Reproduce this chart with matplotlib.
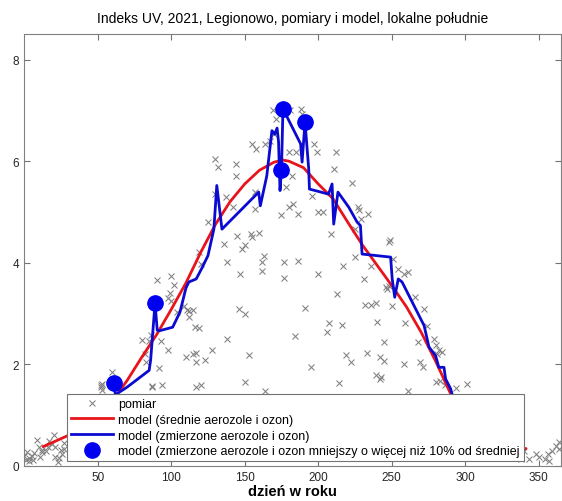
import matplotlib
matplotlib.use("Agg")
import matplotlib.pyplot as plt

plt.rcParams['font.family'] = ['Liberation Sans', 'DejaVu Sans']

# pomiary indeksu UV w południe lokalne (dzień roku, wartość)
pomiar_dni = [0, 1, 2, 3, 3, 5, 6, 7, 9, 10, 11, 12, 12, 15, 16, 17, 19, 20, 21, 21,
              23, 24, 25, 26, 27, 27,
              52, 52, 53, 53, 60, 80, 82, 83, 85, 86, 87, 87, 90, 92, 93, 94, 98,
              98, 99, 100, 100, 102, 104, 109, 110, 111, 112, 112, 115, 115, 116,
              117, 117, 117, 119, 119, 120, 120, 123, 125, 128, 130, 130, 132, 136,
              137, 138, 138, 142, 144, 144, 145, 146, 147, 148, 150, 150, 150, 153,
              154, 155, 155, 157, 157, 158, 160, 162, 162, 163, 164, 164, 167, 169,
              170, 171, 175, 177, 177, 178, 180, 180, 181, 182, 183, 184, 185, 186,
              186, 188, 189, 191, 195, 196, 197, 199, 200, 200, 203, 206, 207, 209,
              211, 212, 213, 214, 216, 217, 219, 222, 223, 225, 225, 227, 228, 229,
              231, 232, 233, 234, 236, 236, 239, 239, 240, 242, 242, 243, 245, 245,
              246, 247, 248, 248, 249, 250, 251, 254, 258, 258, 259, 261, 261, 266,
              268, 269, 271, 272, 274, 279, 280, 280, 281, 282, 283, 284, 286, 294,
              301,
              338, 340, 343, 348, 350, 354, 356, 357, 359, 362, 364, 364]
pomiar_uv = [0.20, 0.12, 0.27, 0.10, 0.15, 0.20, 0.12, 0.25, 0.51, 0.37, 0.18, 0.27,
             0.31, 0.30, 0.38, 0.48, 0.43, 0.61, 0.17, 0.38, 0.07, 0.15, 0.31, 0.24,
             0.33, 0.45,
             1.55, 1.59, 1.61, 1.50, 1.84, 2.48, 2.20, 2.05, 2.45, 2.58, 1.57, 1.56,
             3.65, 1.92, 2.45, 1.59, 2.28, 3.30, 3.40, 3.25, 3.74, 3.56, 3.03, 3.14,
             2.15, 3.06, 2.94, 3.04, 3.07, 2.20, 2.73, 2.22, 2.05, 1.56, 2.71, 4.21,
             3.98, 1.59, 2.09, 4.81, 2.28, 5.35, 6.04, 5.88, 4.37, 5.29, 4.02, 2.49,
             5.09, 5.94, 5.70, 4.53, 3.08, 3.78, 4.26, 2.99, 4.34, 1.66, 2.19, 4.57,
             4.50, 6.34, 5.06, 5.39, 6.24, 4.59, 4.01, 3.84, 4.14, 6.34, 1.48, 6.40,
             7.00, 6.54, 6.83, 4.93, 4.01, 3.69, 5.50, 6.18, 5.09, 7.00, 5.71, 5.16,
             2.55, 6.18, 4.04, 4.96, 7.03, 6.93, 3.11, 1.95, 5.32, 6.34, 6.18, 4.99,
             3.78, 4.99, 2.63, 2.81, 4.57, 5.85, 6.18, 3.39, 1.63, 2.78, 3.93, 2.19,
             2.05, 5.57, 4.12, 4.67, 5.09, 5.04, 4.86, 3.67, 3.17, 2.22, 4.96, 3.93,
             3.17, 1.79, 3.21, 2.84, 2.14, 1.71, 1.74, 2.07, 2.43, 3.53, 3.48, 3.54,
             4.40, 4.44, 3.14, 4.07, 3.88, 3.78, 2.01, 2.81, 3.81, 1.48, 3.32, 2.43,
             2.05, 1.94, 3.08, 2.76, 2.50, 1.66, 2.38, 2.20, 2.28, 1.67, 2.24, 1.59,
             1.53, 1.61,
             0.14, 0.30, 0.14, 0.24, 0.17, 0.14, 0.24, 0.10, 0.30, 0.40, 0.33, 0.47]

# model ze średnimi aerozolami i ozonem
model_sr_dni = [13, 20, 30, 40, 50, 60, 70, 80, 90, 100, 110, 120, 130, 140, 150, 160,
                170, 176, 180, 190, 200, 210, 220, 230, 240, 250, 260, 270, 280, 290,
                300, 310, 320, 330, 341]
model_sr_uv = [0.38, 0.47, 0.60, 0.78, 1.00, 1.28, 1.68, 2.14, 2.58, 3.08, 3.60, 4.20,
               4.75, 5.20, 5.55, 5.82, 5.98, 6.02, 6.00, 5.87, 5.55, 5.26, 4.80, 4.35,
               3.95, 3.55, 3.13, 2.63, 2.05, 1.42, 1.00, 0.72, 0.55, 0.43, 0.34]

# model z zmierzonymi aerozolami i ozonem
model_zm_dni = [61, 62, 70, 85, 86, 89, 90.5, 92, 101, 106, 110, 112, 117, 121, 125,
                129, 131, 134.5, 159.5, 160.6, 165, 168.5, 170.4, 172, 173, 174, 175,
                176, 188, 189, 191, 193.5, 194, 207, 209.4, 210.5, 213.4, 220.8, 226.4,
                228.7, 229.8, 249.2, 250.3, 252, 254.4, 257, 272, 275.3, 279.8, 282,
                285.5, 286.6, 290, 293]
model_zm_uv = [1.63, 1.40, 1.55, 1.88, 2.08, 3.20, 2.67, 2.66, 2.73, 3.03, 3.50, 3.62,
               3.68, 3.90, 4.14, 4.66, 5.52, 4.66, 5.39, 5.12, 5.71, 6.60, 6.53, 6.65,
               6.38, 5.42, 5.83, 7.03, 6.34, 5.98, 6.77, 5.85, 5.45, 5.35, 5.55, 4.76,
               5.39, 5.09, 4.80, 4.73, 4.17, 4.11, 3.68, 3.32, 3.68, 3.62, 2.76, 2.34,
               2.17, 1.94, 1.94, 1.71, 1.52, 1.20]

# dni z ozonem mniejszym o ponad 10% od średniej
niski_ozon_dni = [61, 89, 175, 176, 191]
niski_ozon_uv = [1.63, 3.20, 5.83, 7.03, 6.77]

fig = plt.figure(figsize=(5.62, 5.02), dpi=100)
ax = fig.add_axes([0.043, 0.070, 0.955, 0.860])

ax.plot(pomiar_dni, pomiar_uv, 'x', color='0.5', markersize=4.5, markeredgewidth=0.75,
        label='pomiar')
ax.plot(model_sr_dni, model_sr_uv, '-', color='#e8141b', linewidth=2.0,
        label='model (średnie aerozole i ozon)')
ax.plot(model_zm_dni, model_zm_uv, '-', color='#0a0ad0', linewidth=2.0,
        label='model (zmierzone aerozole i ozon)')
ax.plot(niski_ozon_dni, niski_ozon_uv, 'o', color='#0000f0', markersize=11,
        label='model (zmierzone aerozole i ozon mniejszy o więcej niż 10% od średniej')

ax.set_xlim(0, 365)
ax.set_ylim(0, 8.5)
ax.set_xticks([50, 100, 150, 200, 250, 300, 350])
ax.set_yticks([0, 2, 4, 6, 8])
ax.tick_params(direction='in', top=True, right=True, labelsize=8.5, length=4,
               color='0.45', labelcolor='0.15')
for s in ax.spines.values():
    s.set_color('0.5')
    s.set_linewidth(0.8)

ax.set_title('Indeks UV, 2021, Legionowo, pomiary i model, lokalne południe',
             fontsize=10, pad=9)
ax.set_xlabel('dzień w roku', fontsize=10.5, fontweight='bold', labelpad=1)

leg = ax.legend(loc='lower left', bbox_to_anchor=(0.080, 0.011), fontsize=9,
                frameon=True, fancybox=False, edgecolor='0.45', framealpha=1,
                handlelength=3.4, handletextpad=0.4, labelspacing=0.3,
                borderpad=0.3, borderaxespad=0)
leg.get_frame().set_linewidth(0.8)

fig.savefig('out.png', dpi=100)
